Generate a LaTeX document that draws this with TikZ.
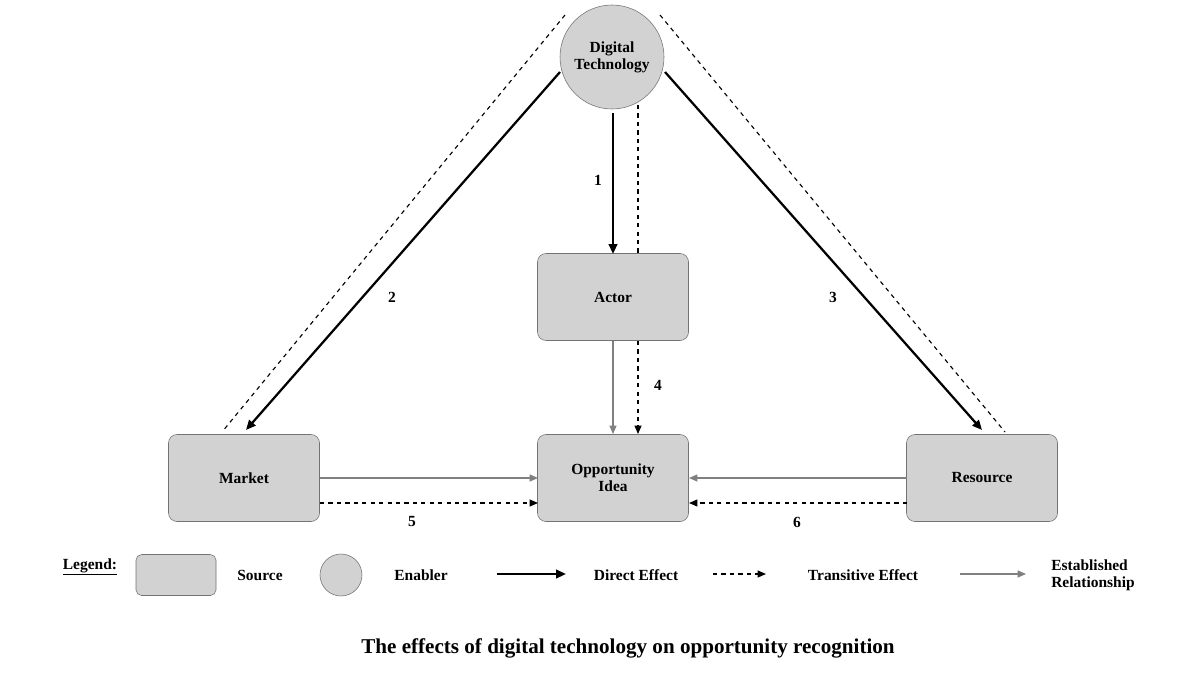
\documentclass[tikz,border=0pt]{standalone}
\usepackage{fontspec}
\setmainfont{Liberation Serif}
\usetikzlibrary{arrows.meta}
\begin{document}
\begin{tikzpicture}[x=0.025cm,y=-0.025cm,font=\bfseries\fontsize{11}{12}\selectfont,
  box/.style={draw=gray!90!black,fill=gray!35,rounded corners=6pt,minimum width=151*0.025cm,minimum height=87*0.025cm,align=center},
  enab/.style={draw=gray!90!black,fill=gray!35,circle},
  direct/.style={line width=1.6pt,-{Triangle[length=7pt,width=6pt]}},
  trans/.style={dashed,line width=0.8pt},
  transa/.style={trans,-{Triangle[length=6pt,width=5pt]}},
  est/.style={gray,line width=0.9pt,-{Triangle[length=6pt,width=5pt]}},
  lab/.style={inner sep=1pt}]
\useasboundingbox (0,0) rectangle (1200,675);
\node[enab,minimum size=104*0.025cm,align=center] (dt) at (612,57) {Digital\\Technology};
\node[box] (actor) at (613,297) {Actor};
\node[box] (opp) at (613,478) {Opportunity\\Idea};
\node[box] (mkt) at (244,478) {Market};
\node[box] (res) at (982,478) {Resource};
% 1
\draw[direct] (613,113) -- (613,254);
\draw[trans] (638,105) -- (638,254);
\node[lab] (l1) at (598,180) {1};
% 4
\draw[est] (613,341) -- (613,434);
\draw[transa] (638,341) -- (638,434);
\node[lab] (l4) at (658,385) {4};
% 2
\draw[direct] (560,72) -- (246,430);
\draw[trans] (565,15) -- (222,432);
\node[lab] (l2) at (392,297) {2};
% 3
\draw[direct] (665,72) -- (982,430);
\draw[trans] (660,15) -- (1005,432);
\node[lab] (l3) at (833,297) {3};
% 5,6
\draw[est] (320,478) -- (538,478);
\draw[transa] (320,503) -- (538,503);
\node[lab] (l5) at (412,522) {5};
\draw[est] (907,478) -- (689,478);
\draw[transa] (907,503) -- (689,503);
\node[lab] (l6) at (797,522) {6};
% legend
\node (lg) at (90,567) {\underline{Legend:}};
\node[box,minimum width=80*0.025cm,minimum height=41*0.025cm,rounded corners=4pt] (lbox) at (176,575) {};
\node (ls) at (260,575) {Source};
\node[enab,minimum size=42*0.025cm] (lc) at (341,575) {};
\node (le) at (421,575) {Enabler};
\coordinate (d1) at (497,574); \coordinate (d2) at (566,574);
\draw[direct] (d1) -- (d2);
\node (ld) at (636,575) {Direct Effect};
\coordinate (t1) at (713,574); \coordinate (t2) at (766,574);
\draw[transa] (t1) -- (t2);
\node (lt) at (863,575) {Transitive Effect};
\coordinate (e1) at (960,574); \coordinate (e2) at (1026,574);
\draw[est] (e1) -- (e2);
\node[align=left] (lr) at (1093,575) {Established\\Relationship};
\node[font=\bfseries\fontsize{15}{17}\selectfont] (title) at (628,648) {The effects of digital technology on opportunity recognition};
\end{tikzpicture}
\end{document}
